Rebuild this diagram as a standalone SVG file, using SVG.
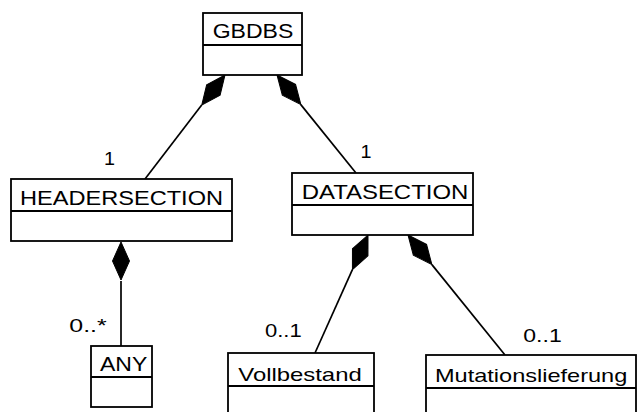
<svg xmlns="http://www.w3.org/2000/svg" width="637" height="412" viewBox="0 0 637 412">
<style>
.box{fill:#fff;stroke:#000;stroke-width:1.8}
.div{stroke:#000;stroke-width:1.8}
.t{font-family:"Liberation Sans",Arial,sans-serif;font-size:19.5px;fill:#000}
.m{font-size:18.5px}
.ln{stroke:#000;stroke-width:1.7;fill:none}
.dm{fill:#000;stroke:#000;stroke-width:1}
</style>
<defs>
<path id="dia" d="M0,0 L8.5,19 L0,38 L-8.5,19 Z"/>
</defs>
<rect width="637" height="412" fill="#fff"/>
<g id="connectors">
<line class="ln" x1="201.7" y1="105" x2="145" y2="179"/>
<use href="#dia" class="dm" transform="translate(225,75) rotate(37.7)"/>
<line class="ln" x1="300.8" y1="104.6" x2="356" y2="173"/>
<use href="#dia" class="dm" transform="translate(277,75) rotate(-38.9)"/>
<line class="ln" x1="121" y1="281" x2="121" y2="346"/>
<use href="#dia" class="dm" transform="translate(121,242)"/>
<line class="ln" x1="352.4" y1="269.7" x2="315" y2="353"/>
<use href="#dia" class="dm" transform="translate(368,235) rotate(24.2)"/>
<line class="ln" x1="431.9" y1="264.6" x2="505" y2="355"/>
<use href="#dia" class="dm" transform="translate(408,235) rotate(-38.9)"/>
<text class="t m" x="104" y="165" textLength="11" lengthAdjust="spacingAndGlyphs">1</text>
<text class="t m" x="360.5" y="158" textLength="11" lengthAdjust="spacingAndGlyphs">1</text>
<text class="t m" x="69.3" y="331.7" textLength="37.4" lengthAdjust="spacingAndGlyphs">0..*</text>
<text class="t m" x="265" y="336.7" textLength="36.7" lengthAdjust="spacingAndGlyphs">0..1</text>
<text class="t m" x="523.3" y="342" textLength="38.4" lengthAdjust="spacingAndGlyphs">0..1</text>
</g>
<g id="GBDBS">
<rect class="box" x="203" y="13" width="99" height="62"/>
<line class="div" x1="203" y1="45" x2="302" y2="45"/>
<text class="t" x="212.7" y="38" textLength="80.6" lengthAdjust="spacingAndGlyphs">GBDBS</text>
</g>
<g id="HEADERSECTION">
<rect class="box" x="11" y="179" width="221" height="62"/>
<line class="div" x1="11" y1="211" x2="232" y2="211"/>
<text class="t" x="20" y="205" textLength="203" lengthAdjust="spacingAndGlyphs">HEADERSECTION</text>
</g>
<g id="DATASECTION">
<rect class="box" x="292" y="173" width="181" height="62"/>
<line class="div" x1="292" y1="205" x2="473" y2="205"/>
<text class="t" x="301.7" y="199" textLength="166.6" lengthAdjust="spacingAndGlyphs">DATASECTION</text>
</g>
<g id="ANY">
<rect class="box" x="91" y="346" width="61" height="61"/>
<line class="div" x1="91" y1="377" x2="152" y2="377"/>
<text class="t" x="100" y="371" textLength="47.3" lengthAdjust="spacingAndGlyphs">ANY</text>
</g>
<g id="Vollbestand">
<rect class="box" x="228" y="353" width="146" height="70"/>
<line class="div" x1="228" y1="386" x2="374" y2="386"/>
<text class="t m" x="238.3" y="381" textLength="123.4" lengthAdjust="spacingAndGlyphs">Vollbestand</text>
</g>
<g id="Mutationslieferung">
<rect class="box" x="426" y="355" width="210" height="70"/>
<line class="div" x1="426" y1="388" x2="636" y2="388"/>
<text class="t m" x="435" y="381.5" textLength="192.3" lengthAdjust="spacingAndGlyphs">Mutationslieferung</text>
</g>
</svg>
